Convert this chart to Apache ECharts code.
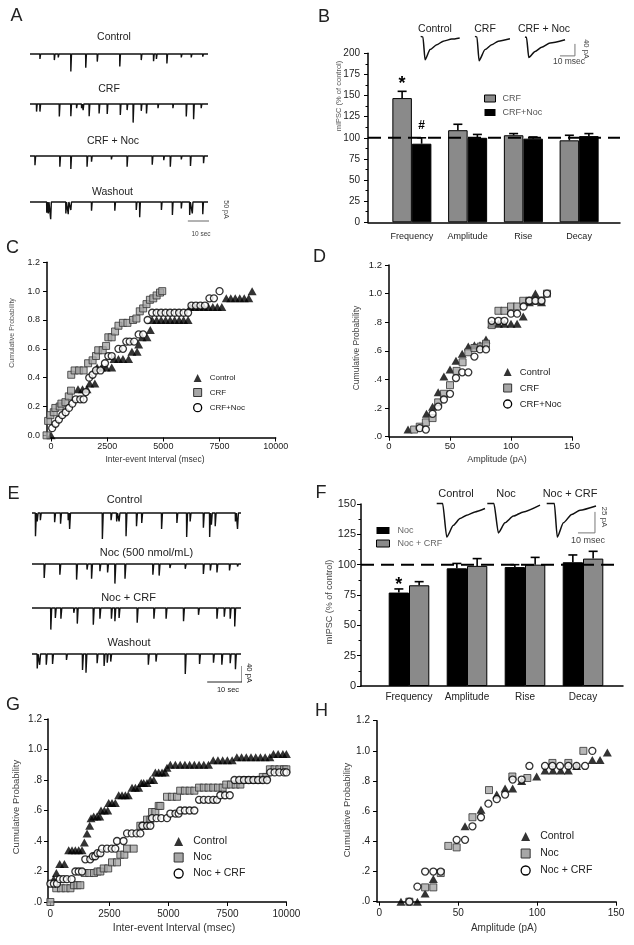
<!DOCTYPE html>
<html>
<head>
<meta charset="utf-8">
<script src="https://cdn.jsdelivr.net/npm/echarts@6/dist/echarts.min.js"></script>
<style>
html, body { margin: 0; padding: 0; background: #fff; }
#chart { width: 634px; height: 945px; }
</style>
</head>
<body>
<div id="chart"></div>
<script>
var FONT = '"Liberation Sans", Arial, sans-serif';

// ---- A: mIPSC events, [time (s), amplitude (pA)] ----
var aControl = [[3.8,13],[9.3,16],[10.8,9],[15.6,46],[21.3,36],[25.7,20],[34.3,33],[42.5,16],[47.2,19],[48.3,13],[52.3,25],[57.8,9],[61.6,9],[66,7]];
var aCrf = [[2.5,20],[3.8,20],[11.2,33],[15.6,32],[17.8,11],[19.7,11],[20.3,16],[22.6,32],[26.4,25],[29.5,26],[34.5,29],[37.1,16],[39.4,49],[42.5,18],[44.5,25],[48.9,11],[54.6,11],[59.7,33],[62.5,40],[65.4,11]];
var aCrfNoc = [[1.9,24],[11.4,28],[15.6,34],[21.8,28],[23.5,15],[31.1,9],[37.1,28],[46.7,23],[51.1,11],[53.6,28],[57.8,9],[61.3,26],[66.3,19]];
var aWash = [[6.4,28],[7,30],[7.9,45],[13.7,30],[14.6,32],[15.6,21],[23.5,23],[32.4,23],[40.6,21],[41.9,40],[50.2,21],[54.4,34],[57.8,17],[61,34],[62,30],[66,32]];

// ---- E: mIPSC events, [time (s), amplitude (pA)] ----
var eControl = [[1.0,58],[1.5,21],[2.4,18],[6.5,23],[8.2,27],[10.4,18],[10.8,40],[20.2,65],[22.7,18],[24.3,21],[25.0,21],[27.0,58],[30.0,33],[31.5,25],[37.2,40],[41.6,25],[44.4,60],[45.4,21],[49.2,37],[51.0,60],[51.5,29],[52.6,33],[58.4,21],[59.0,40]];
var eNoc = [[3.5,35],[8.0,27],[12.8,39],[15.8,14],[17.1,37],[19.5,18],[21.7,21],[23.8,49],[26.7,37],[34.7,27],[36.5,29],[39.6,10],[44.0,12],[49.2,25],[51.2,16],[53.1,21],[56.7,16],[59.0,6]];
var eNocCrf = [[5.4,54],[6.7,25],[8.3,27],[12.0,12],[13.0,39],[17.6,42],[19.5,27],[22.8,27],[23.8,33],[25.0,25],[30.2,37],[35.0,27],[38.5,27],[43.5,33],[47.8,17],[53.1,27],[55.2,22],[56.9,27],[58.2,46]];
var eWash = [[1.5,36],[2.2,27],[4.1,27],[5.9,25],[9.9,15],[14.5,40],[15.5,47],[18.7,23],[20.7,30],[21.6,22],[22.6,19],[33.4,27],[35.6,19],[44.0,50],[48.1,25],[52.1,22],[54.5,27],[56.9,23],[58.4,38]];

// ---- B / F: bar summaries (% of control) ----
var barCats = ['Frequency', 'Amplitude', 'Rise', 'Decay'];
var controlLevel = 100;
var bCrf = [147, 109, 103, 97];
var bCrfErr = [8, 7, 2, 6];
var bCrfNoc = [93, 100, 99, 102];
var bCrfNocErr = [7, 4, 2, 3];
var fNoc = [77, 97, 98, 102];
var fNocErr = [3, 4, 2, 6];
var fNocCrf = [83, 99, 100, 105];
var fNocCrfErr = [3, 6, 6, 6];

// averaged mIPSC insets, [time (ms), current (pA)]
var bInsetControl = [[0,2],[1.5,0],[2.9,-76],[6.2,-42],[10.7,-26],[15,-14],[20.7,-7],[26,-3]];
var bInsetCrf = [[0,2],[1.3,0],[2.7,-79],[6.7,-42],[11.1,-26],[15.5,-14],[23.3,-6]];
var bInsetCrfNoc = [[0,0],[1,-1],[2.5,-68],[6.7,-48],[11.1,-34],[16.7,-20],[26.7,-9]];
var fInsetControl = [[0,0],[3.5,0],[5.9,-40],[9.8,-26],[13.7,-18],[17.6,-14],[22.5,-10],[28.4,-6]];
var fInsetNoc = [[0,0],[3.9,0],[6.5,-35],[10.4,-23],[15.3,-15],[21.2,-10],[31,-2]];
var fInsetNocCrf = [[0,0],[4.5,0],[6.2,-40],[9.8,-23],[14.7,-13],[19.6,-8],[29,-3]];

// ---- C: inter-event interval CDF [msec, prob] ----
var cControl = [[0,0],[1200,0.32],[1400,0.32],[1600,0.32],[1720,0.36],[1950,0.36],[2050,0.47],[2250,0.47],[2450,0.47],[2700,0.47],[2800,0.53],[3000,0.53],[3200,0.53],[3450,0.53],[3600,0.58],[3830,0.58],[3900,0.63],[4050,0.68],[4270,0.68],[4420,0.73],[4500,0.8],[4700,0.8],[4900,0.8],[5100,0.8],[5300,0.8],[5500,0.8],[5700,0.8],[5900,0.8],[6100,0.8],[6200,0.89],[6400,0.89],[6600,0.89],[6800,0.89],[7000,0.89],[7200,0.89],[7400,0.89],[7600,0.89],[7800,0.95],[8000,0.95],[8200,0.95],[8400,0.95],[8600,0.95],[8800,0.95],[8950,1.0]];
var cCrf = [[-200,0],[-130,0.1],[-30,0.14],[120,0.16],[190,0.19],[385,0.2],[460,0.22],[640,0.23],[790,0.27],[890,0.31],[900,0.42],[1050,0.45],[1250,0.45],[1450,0.45],[1650,0.5],[1850,0.52],[2000,0.55],[2100,0.59],[2300,0.59],[2450,0.62],[2550,0.68],[2700,0.68],[2850,0.72],[3000,0.76],[3200,0.78],[3400,0.78],[3650,0.8],[3800,0.81],[3950,0.86],[4100,0.88],[4250,0.91],[4400,0.94],[4550,0.95],[4700,0.97],[4850,0.99],[4950,1.0]];
var cCrfNoc = [[50,0.05],[200,0.08],[350,0.11],[500,0.14],[650,0.16],[800,0.19],[950,0.22],[1100,0.25],[1300,0.25],[1450,0.25],[1550,0.3],[1700,0.4],[1850,0.42],[2000,0.45],[2200,0.45],[2400,0.5],[2550,0.55],[2700,0.55],[3000,0.6],[3200,0.6],[3350,0.65],[3500,0.65],[3700,0.65],[3900,0.7],[4100,0.7],[4300,0.8],[4500,0.85],[4700,0.85],[4900,0.85],[5100,0.85],[5300,0.85],[5500,0.85],[5700,0.85],[5900,0.85],[6100,0.85],[6250,0.9],[6450,0.9],[6650,0.9],[6850,0.9],[7050,0.95],[7250,0.95],[7500,1.0]];

// ---- D: amplitude CDF [pA, prob] ----
var dControl = [[15.6,0.05],[30.7,0.16],[35.7,0.21],[40.3,0.31],[45,0.42],[50,0.47],[54.9,0.53],[60,0.58],[65,0.63],[70,0.64],[74.6,0.64],[79.5,0.68],[84.2,0.79],[89.7,0.79],[94.6,0.79],[100,0.79],[105,0.79],[110,0.84],[115,0.94],[120,1.0],[125,0.94]];
var dCrf = [[20.6,0.05],[25.2,0.07],[30.2,0.1],[35.7,0.13],[40.3,0.24],[45,0.3],[50,0.36],[55.4,0.46],[60.3,0.52],[65,0.59],[70,0.62],[75.2,0.63],[79.5,0.65],[84.2,0.78],[89.7,0.88],[94.6,0.88],[100,0.91],[105,0.91],[110,0.95],[115,0.95],[120,0.95],[124.8,0.95],[129.5,1.0]];
var dCrfNoc = [[25.2,0.06],[30.2,0.05],[35.7,0.16],[40.3,0.21],[45,0.26],[50,0.3],[54.9,0.41],[60,0.45],[65,0.45],[70,0.56],[74.6,0.61],[79.5,0.61],[84.2,0.81],[89.7,0.81],[94.6,0.81],[100,0.86],[105,0.86],[110.3,0.91],[115,0.95],[120,0.95],[125,0.95],[129.5,1.0]];

// ---- G: inter-event interval CDF [msec, prob] ----
var gControl = [[140,0.15],[254,0.19],[395,0.25],[593,0.25],[777,0.34],[918,0.34],[1059,0.34],[1200,0.34],[1340,0.34],[1440,0.39],[1553,0.45],[1666,0.5],[1723,0.55],[1836,0.56],[1977,0.56],[2090,0.56],[2146,0.6],[2287,0.6],[2429,0.6],[2471,0.65],[2612,0.65],[2753,0.65],[2895,0.7],[3036,0.7],[3177,0.7],[3300,0.7],[3460,0.75],[3600,0.75],[3742,0.75],[3850,0.78],[3954,0.78],[4095,0.78],[4236,0.8],[4377,0.8],[4448,0.85],[4589,0.85],[4730,0.85],[4870,0.85],[4942,0.88],[5083,0.9],[5295,0.9],[5500,0.9],[5700,0.9],[5900,0.9],[6100,0.9],[6300,0.9],[6500,0.9],[6700,0.9],[6900,0.93],[7100,0.93],[7300,0.93],[7500,0.93],[7700,0.93],[7900,0.95],[8100,0.95],[8300,0.95],[8500,0.95],[8700,0.95],[8900,0.95],[9100,0.95],[9300,0.95],[9450,0.97],[9650,0.97],[9850,0.97],[10000,0.97]];
var gNoc = [[0,0],[250,0.09],[450,0.09],[650,0.09],[850,0.09],[1000,0.11],[1150,0.11],[1270,0.11],[1450,0.19],[1650,0.19],[1850,0.19],[2000,0.2],[2118,0.2],[2260,0.22],[2450,0.22],[2612,0.26],[2824,0.26],[2965,0.31],[3135,0.31],[3248,0.35],[3530,0.35],[3812,0.5],[3954,0.5],[4095,0.54],[4236,0.54],[4307,0.59],[4448,0.59],[4589,0.63],[4660,0.63],[4942,0.69],[5150,0.69],[5366,0.69],[5500,0.73],[5700,0.73],[5900,0.73],[6100,0.73],[6300,0.75],[6500,0.75],[6700,0.75],[6900,0.75],[7100,0.75],[7300,0.75],[7450,0.77],[7650,0.77],[7850,0.77],[8050,0.77],[8250,0.8],[8450,0.8],[8650,0.8],[8850,0.8],[9000,0.82],[9150,0.82],[9300,0.87],[9500,0.87],[9700,0.87],[9900,0.87],[10000,0.87]];
var gNocCrf = [[0,0.12],[150,0.12],[280,0.12],[400,0.15],[550,0.15],[700,0.15],[900,0.15],[1060,0.2],[1200,0.2],[1340,0.2],[1480,0.28],[1690,0.28],[1800,0.3],[1900,0.3],[2000,0.32],[2118,0.32],[2190,0.35],[2400,0.35],[2600,0.35],[2750,0.35],[2824,0.4],[3100,0.4],[3250,0.45],[3450,0.45],[3650,0.45],[3812,0.45],[3900,0.5],[4100,0.5],[4236,0.5],[4307,0.55],[4500,0.55],[4700,0.55],[4942,0.55],[5083,0.58],[5300,0.58],[5436,0.58],[5500,0.6],[5700,0.6],[5900,0.6],[6100,0.6],[6300,0.67],[6500,0.67],[6700,0.67],[6900,0.67],[7060,0.67],[7200,0.7],[7400,0.7],[7600,0.7],[7800,0.8],[8000,0.8],[8200,0.8],[8400,0.8],[8600,0.8],[8800,0.8],[9000,0.8],[9180,0.8],[9320,0.85],[9500,0.85],[9700,0.85],[9900,0.85],[10000,0.85]];

// ---- H: amplitude CDF [pA, prob] ----
var hControl = [[13.7,0],[24.1,0],[29,0.055],[34.2,0.15],[54.3,0.5],[64.4,0.61],[74.4,0.71],[79.7,0.75],[84.5,0.75],[90.2,0.8],[99.7,0.83],[105,0.87],[110,0.87],[115,0.87],[119.8,0.87],[125,0.9],[135,0.94],[139.9,0.94],[144.5,0.99]];
var hNoc = [[19,0],[29,0.095],[34.2,0.095],[38.9,0.19],[43.7,0.37],[49,0.36],[59,0.56],[69.5,0.74],[84.3,0.83],[93.8,0.82],[109.7,0.92],[119.8,0.92],[129.3,1.0]];
var hNocCrf = [[19,0],[24.1,0.1],[29,0.2],[34.2,0.2],[38.9,0.2],[49,0.41],[54.3,0.41],[59,0.5],[64.4,0.56],[69.1,0.65],[74.4,0.68],[79.7,0.71],[84.5,0.81],[90.2,0.81],[95.1,0.9],[105,0.9],[109.7,0.9],[114.5,0.9],[119.8,0.9],[125,0.9],[130.4,0.9],[135,1.0]];

// tick labels
var intervalTicks = [0, 2500, 5000, 7500, 10000];
var ampTicks = [0, 50, 100, 150];
var probTicks = [0, 0.2, 0.4, 0.6, 0.8, 1.0, 1.2];

var grids = [], xAxes = [], yAxes = [], series = [], texts = [], legends = [];

function addGrid(rect, xa, ya) {
	rect.outerBoundsMode = 'none';
	rect.containLabel = false;
	grids.push(rect);
	xa.gridIndex = grids.length - 1;
	ya.gridIndex = grids.length - 1;
	xAxes.push(xa);
	yAxes.push(ya);
	return grids.length - 1;
}

function hiddenAxis(min, max) {
	return { type: 'value', min: min, max: max, show: false };
}

function txt(s, x, y, size, opt) {
	opt = opt || {};
	texts.push({
		type: 'text', x: x, y: y, rotation: opt.rot || 0, silent: true, z: 20,
		style: {
			text: s, fontSize: size, fontFamily: FONT, fill: opt.color || '#222',
			fontWeight: opt.weight || 'normal', align: 'center', verticalAlign: 'middle'
		}
	});
}

function line(gi, data, color, width, extra) {
	var s = {
		type: 'line', xAxisIndex: gi, yAxisIndex: gi, data: data, symbol: 'none',
		lineStyle: { color: color, width: width }, silent: true, clip: false, z: 3
	};
	for (var k in extra) s[k] = extra[k];
	series.push(s);
}

// turn event list into a trace
function spikes(events, tEnd) {
	var pts = [[0, 0]];
	for (var i = 0; i < events.length; i++) {
		var t = events[i][0], a = events[i][1];
		pts.push([t - 0.05, 0], [t, -a], [t + 0.25, 0]);
	}
	pts.push([tEnd, 0]);
	return pts;
}

function traceGrid(left, width, tMax, baseline, k, yMin) {
	return addGrid({ left: left, top: baseline - 5 * k, width: width, height: (5 - yMin) * k },
		hiddenAxis(0, tMax), hiddenAxis(yMin, 5));
}

function plain(v) { return String(v); }

// ================= A =================
var aRows = [[aControl, 54, 'Control', 114, 37.5], [aCrf, 104, 'CRF', 109, 89], [aCrfNoc, 156, 'CRF + Noc', 113, 141], [aWash, 202, 'Washout', 112.5, 192.5]];
var aLast;
aRows.forEach(function (r) {
	var gi = traceGrid(30, 178, 68, r[1], 0.38, -60);
	line(gi, spikes(r[0], 68), '#111', 1.4);
	txt(r[2], r[3], r[4], 10.5);
	aLast = gi;
});
line(aLast, [[60.3, -50], [70.3, -50], [70.3, 0]], '#666', 1);
txt('10 sec', 201, 234, 6.5, { color: '#444' });
txt('50 pA', 225.5, 209.5, 7, { rot: -Math.PI / 2, color: '#444' });

// ================= E =================
var eRows = [[eControl, 513, 'Control', 124.5, 500], [eNoc, 564, 'Noc (500 nmol/mL)', 146.5, 553], [eNocCrf, 608, 'Noc + CRF', 128.5, 597.5], [eWash, 654, 'Washout', 129, 642.5]];
var eLast;
eRows.forEach(function (r) {
	var gi = traceGrid(32, 209, 60, r[1], 0.4, -70);
	line(gi, spikes(r[0], 60), '#111', 1.4);
	txt(r[2], r[3], r[4], 11);
	eLast = gi;
});
line(eLast, [[50.3, -70], [60.3, -70], [60.3, -30]], '#222', 1);
txt('10 sec', 228, 690, 7.5);
txt('40 pA', 249, 673, 7.5, { rot: -Math.PI / 2 });

// ================= bar panels (B, F) =================
function barPanel(frame, band, yMax, names, vals, errs, colors, marks, fs, labMargin, dashEnd, yLabMargin) {
	var fg = addGrid(frame,
		{ type: 'value', min: 0, max: 1, axisLine: { show: true, lineStyle: { color: '#000', width: 1.5 } },
			axisTick: { show: false }, axisLabel: { show: false }, splitLine: { show: false } },
		{ type: 'value', min: 0, max: yMax, interval: 25,
			axisLine: { show: true, lineStyle: { color: '#000', width: 1.5 } },
			axisTick: { show: true, length: 4, lineStyle: { color: '#000' } },
			minorTick: { show: true, splitNumber: 2, length: 2.5, lineStyle: { color: '#000' } },
			axisLabel: { fontSize: fs, margin: yLabMargin, color: '#222', fontFamily: FONT, formatter: plain },
			splitLine: { show: false } });
	line(fg, [[0, controlLevel], [dashEnd, controlLevel]], '#000', 2, { lineStyle: { color: '#000', width: 2, type: [13, 7] }, z: 6 });

	var bg = addGrid(band,
		{ type: 'category', data: barCats, axisLine: { show: false }, axisTick: { show: false },
			axisLabel: { interval: 0, fontSize: fs - 1, margin: labMargin, color: '#222', fontFamily: FONT } },
		hiddenAxis(0, yMax));
	for (var s = 0; s < 2; s++) {
		series.push({
			type: 'bar', name: names[s], xAxisIndex: bg, yAxisIndex: bg, data: vals[s],
			barGap: '0%', barCategoryGap: '30%', silent: true, z: 2,
			itemStyle: { color: colors[s], borderColor: '#000', borderWidth: 1 }
		});
		(function (side, v, e, mk) {
			series.push({
				type: 'custom', xAxisIndex: bg, yAxisIndex: bg, z: 5, silent: true,
				data: v.map(function (x, i) { return [i, x, e[i]]; }),
				renderItem: function (params, api) {
					var i = api.value(0), val = api.value(1), err = api.value(2);
					var bw = api.size([1, 0])[0] * 0.35;
					var p0 = api.coord([i, val]), p1 = api.coord([i, val + err]);
					var cx = p0[0] + side * bw / 2;
					var st = { stroke: '#000', lineWidth: 1.6 };
					var kids = [
						{ type: 'line', shape: { x1: cx, y1: p0[1], x2: cx, y2: p1[1] }, style: st },
						{ type: 'line', shape: { x1: cx - 4.5, y1: p1[1], x2: cx + 4.5, y2: p1[1] }, style: st }
					];
					var m = mk[params.dataIndex];
					if (m) {
						kids.push({ type: 'text', x: cx, y: p1[1] + m.dy,
							style: { text: m.t, fontSize: m.size, fontWeight: 'bold', fontFamily: FONT, fill: '#000', align: 'center', verticalAlign: 'middle' } });
					}
					return { type: 'group', children: kids };
				}
			});
		})(s === 0 ? -1 : 1, vals[s], errs[s], marks[s]);
	}
}

// B
barPanel({ left: 368, top: 53.3, width: 252, height: 169 }, { left: 384, top: 53.3, width: 223, height: 169 }, 200,
	['CRF', 'CRF+Noc'], [bCrf, bCrfNoc], [bCrfErr, bCrfNocErr], ['#8a8a8a', '#000'],
	[[{ t: '*', dy: -7, size: 18 }, null, null, null], [{ t: '#', dy: -12, size: 12 }, null, null, null]],
	10, 10, 1, 8);
// F
barPanel({ left: 361, top: 504, width: 262, height: 182 }, { left: 380, top: 504, width: 232, height: 182 }, 150,
	['Noc', 'Noc + CRF'], [fNoc, fNocCrf], [fNocErr, fNocCrfErr], ['#000', '#8a8a8a'],
	[[{ t: '*', dy: -4, size: 18 }, null, null, null], [null, null, null, null]],
	11, 6, 0.98, 5);

legends.push({
	left: 484, top: 94, padding: 0, orient: 'vertical', itemWidth: 11, itemHeight: 7, itemGap: 5, selectedMode: false,
	textStyle: { fontSize: 9, color: '#555', fontFamily: FONT, padding: [0, 0, 0, 2] },
	data: [{ name: 'CRF', icon: 'rect', itemStyle: { color: '#8a8a8a', borderColor: '#000', borderWidth: 1 } },
		{ name: 'CRF+Noc', icon: 'rect', itemStyle: { color: '#000', borderWidth: 0 } }]
});
legends.push({
	left: 376, top: 526, padding: 0, orient: 'vertical', itemWidth: 13, itemHeight: 7, itemGap: 4, selectedMode: false,
	textStyle: { fontSize: 9, color: '#666', fontFamily: FONT, padding: [0, 0, 0, 3] },
	data: [{ name: 'Noc', icon: 'rect', itemStyle: { color: '#000', borderWidth: 0 } },
		{ name: 'Noc + CRF', icon: 'rect', itemStyle: { color: '#8a8a8a', borderColor: '#000', borderWidth: 1 } }]
});

txt('mIPSC (% of control)', 339, 96, 7.5, { rot: Math.PI / 2, color: '#555' });
txt('mIPSC (% of control)', 330, 602, 9, { rot: Math.PI / 2, color: '#444' });

// insets
function inset(left, top, width, pxPerMs, k, yMin, data, label, lx, ly, fs) {
	var gi = addGrid({ left: left, top: top, width: width, height: (5 - yMin) * k },
		hiddenAxis(0, width / pxPerMs), hiddenAxis(yMin, 5));
	line(gi, data, '#111', 1.5, { smooth: 0.2, smoothMonotone: 'x' });
	txt(label, lx, ly, fs);
	return gi;
}
inset(420.7, 35.5, 52.5, 1.5, 0.3, -85, bInsetControl, 'Control', 435, 29, 10.5);
inset(475, 35.5, 52.5, 1.5, 0.3, -85, bInsetCrf, 'CRF', 485, 29, 10.5);
var bLastInset = inset(525, 35.5, 52.5, 1.5, 0.3, -85, bInsetCrfNoc, 'CRF + Noc', 544, 29, 10.5);
line(bLastInset, [[23.3, -63], [33.3, -63], [33.3, -23]], '#777', 1);
txt('40 pA', 586, 49, 7.5, { rot: -Math.PI / 2, color: '#444' });
txt('10 msec', 569, 62, 8.5, { color: '#444' });

inset(436.7, 499.3, 59.5, 1.7, 0.84, -50, fInsetControl, 'Control', 456, 494, 11);
inset(487.3, 499.3, 59.5, 1.7, 0.84, -50, fInsetNoc, 'Noc', 506, 494, 11);
var fLastInset = inset(546.7, 499.3, 59.5, 1.7, 0.84, -50, fInsetNocCrf, 'Noc + CRF', 570, 494, 11);
line(fLastInset, [[18.4, -35], [28.4, -35], [28.4, -10]], '#777', 1);
txt('25 pA', 604, 517, 8, { rot: -Math.PI / 2, color: '#444' });
txt('10 msec', 588, 541, 9, { color: '#444' });

// ================= probability panels (C, D, G, H) =================
var SYM = {
	tri: { symbol: 'triangle', size: [9, 8], style: { color: '#000' } },
	sq: { symbol: 'rect', size: 7, style: { color: '#a6a6a6', borderColor: '#333', borderWidth: 1 } },
	circ: { symbol: 'circle', size: 7, style: { color: '#fff', borderColor: '#000', borderWidth: 1.3 } }
};

function dotFmt(v) {
	var s = v.toFixed(1);
	return v < 1 ? s.slice(1) : s;
}

function probPanel(rect, xMin, xMax, xTicks, yMin, fmt, fs, xMargin, yMargin, sets, names, leg) {
	var axl = { show: true, onZero: false, lineStyle: { color: '#000', width: 1.5 } };
	var gi = addGrid(rect,
		{ type: 'value', min: xMin, max: xMax, axisLine: axl, splitLine: { show: false },
			axisTick: { show: true, customValues: xTicks, length: 4, lineStyle: { color: '#000' } },
			axisLabel: { customValues: xTicks, fontSize: fs, margin: xMargin, color: '#222', fontFamily: FONT, formatter: plain } },
		{ type: 'value', min: yMin, max: 1.2, axisLine: axl, splitLine: { show: false },
			axisTick: { show: true, customValues: probTicks, length: 4, lineStyle: { color: '#000' } },
			axisLabel: { customValues: probTicks, fontSize: fs, margin: yMargin, color: '#222', fontFamily: FONT, formatter: fmt } });
	var syms = [SYM.tri, SYM.sq, SYM.circ];
	for (var i = 0; i < 3; i++) {
		series.push({ type: 'scatter', name: names[i], xAxisIndex: gi, yAxisIndex: gi, data: sets[i],
			symbol: syms[i].symbol, symbolSize: syms[i].size, itemStyle: syms[i].style, clip: false, silent: true, z: 3 + i });
	}
	legends.push({
		left: leg.left, top: leg.top, padding: 0, orient: 'vertical', itemWidth: leg.iw, itemHeight: leg.iw, itemGap: leg.gap, selectedMode: false,
		textStyle: { fontSize: leg.fs, color: '#222', fontFamily: FONT, padding: [0, 0, 0, leg.pad] },
		data: [{ name: names[0], icon: 'triangle', itemStyle: { color: '#000', borderWidth: 0 } },
			{ name: names[1], icon: 'rect', itemStyle: { color: '#a6a6a6', borderColor: '#333', borderWidth: 1 } },
			{ name: names[2], icon: 'circle', itemStyle: { color: '#fff', borderColor: '#000', borderWidth: 1.3 } }]
	});
	return gi;
}

// C
probPanel({ left: 47, top: 262.3, width: 228.7, height: 175.2 }, -180, 10000, intervalTicks, -0.015,
	function (v) { return v.toFixed(1); }, 9, 5, 7,
	[cControl, cCrf, cCrfNoc], ['Control', 'CRF', 'CRF+Noc'],
	{ left: 193, top: 374, iw: 8, gap: 6, fs: 8, pad: 3 });
txt('Cumulative Probability', 12, 333, 7, { rot: Math.PI / 2, color: '#555' });
txt('Inter-event Interval (msec)', 155, 460, 8.5, { color: '#333' });

// D
probPanel({ left: 389, top: 265, width: 183, height: 171.7 }, 0, 150, ampTicks, 0, dotFmt, 9.5, 5, 7,
	[dControl, dCrf, dCrfNoc], ['Control', 'CRF', 'CRF+Noc'],
	{ left: 503, top: 367, iw: 8, gap: 6, fs: 9.5, pad: 3 });
txt('Cumulative Probability', 357, 348, 8.5, { rot: Math.PI / 2, color: '#444' });
txt('Amplitude (pA)', 497, 460, 9, { color: '#333' });

// G
probPanel({ left: 48, top: 719, width: 238.4, height: 183 }, -100, 10000, intervalTicks, 0, dotFmt, 10, 7, 6,
	[gControl, gNoc, gNocCrf], ['Control', 'Noc', 'Noc + CRF'],
	{ left: 173.5, top: 836, iw: 9, gap: 5, fs: 10.5, pad: 5 });
txt('Cumulative Probability', 16, 807, 9.5, { rot: Math.PI / 2, color: '#444' });
txt('Inter-event Interval (msec)', 174, 928, 10.5, { color: '#333' });

// H
probPanel({ left: 377, top: 720.7, width: 239, height: 181 }, -1.5, 150, ampTicks, 0, dotFmt, 10, 7, 7,
	[hControl, hNoc, hNocCrf], ['Control', 'Noc', 'Noc + CRF'],
	{ left: 520.5, top: 831, iw: 9, gap: 6, fs: 10.5, pad: 5 });
txt('Cumulative Probability', 347, 810, 9.5, { rot: Math.PI / 2, color: '#444' });
txt('Amplitude (pA)', 504, 928, 10, { color: '#333' });

// panel letters
[['A', 16.5, 16.5], ['B', 324, 17.5], ['C', 12.5, 248.5], ['D', 319.5, 257], ['E', 13.5, 494], ['F', 321, 493], ['G', 13, 705], ['H', 321.5, 711]].forEach(function (p) {
	txt(p[0], p[1], p[2], 18, { color: '#222' });
});

var myChart = echarts.init(document.getElementById('chart'), null, { renderer: 'canvas' });
myChart.setOption({
	animation: false,
	backgroundColor: '#fff',
	textStyle: { fontFamily: FONT },
	grid: grids,
	xAxis: xAxes,
	yAxis: yAxes,
	legend: legends,
	series: series,
	graphic: { elements: texts }
});
</script>
</body>
</html>
